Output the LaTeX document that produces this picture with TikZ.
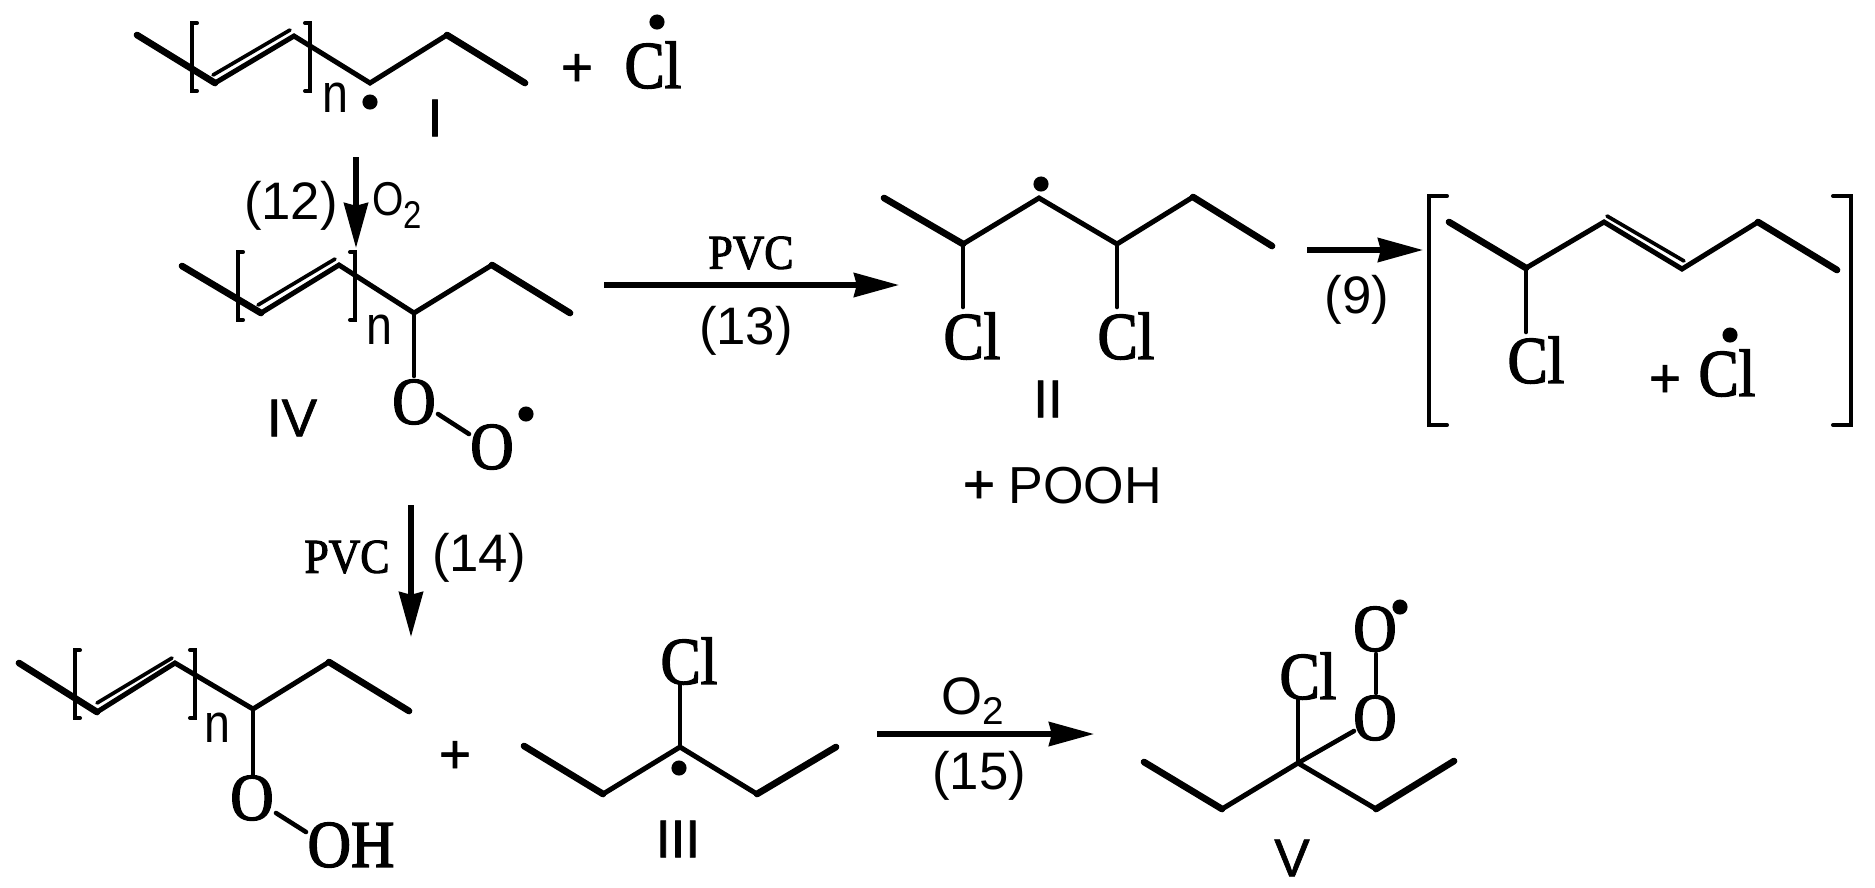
\documentclass[tikz,border=0pt]{standalone}
\usepackage{fontspec}
\usepackage{graphicx}
\setmainfont{Liberation Serif}
\newfontfamily\chemf[FakeStretch=0.9,FakeBold=2.2]{Liberation Serif}
\newfontfamily\sansf{Liberation Sans}
\newfontfamily\labf[FakeBold=1.2]{Liberation Sans}
\newfontfamily\idxf[FakeStretch=0.85]{Liberation Sans}
\newfontfamily\oxf[FakeStretch=0.85]{Liberation Sans}
\usetikzlibrary{arrows.meta}
\tikzset{
  x=0.01cm,y=-0.01cm,
  txt/.style={inner sep=0pt,outer sep=0pt},
  atom/.style={txt,font=\chemf\fontsize{19pt}{22pt}\selectfont},
  pvc/.style={txt,font=\chemf\fontsize{13.8pt}{16pt}\selectfont},
  rxn/.style={txt,font=\sansf\fontsize{15pt}{17pt}\selectfont},
  lab/.style={txt,font=\labf\fontsize{15.1pt}{17pt}\selectfont},
  idx/.style={txt,font=\idxf\fontsize{15.6pt}{17pt}\selectfont},
  plus/.style={txt,font=\labf\fontsize{15.6pt}{17pt}\selectfont},
  pooh/.style={txt,font=\sansf\fontsize{14.8pt}{17pt}\selectfont},
  oxy/.style={txt,anchor=base west},
  bond/.style={line width=1.42pt,line cap=round,line join=miter},
  endbond/.style={line width=1.9pt,line cap=round},
  thinbond/.style={line width=1.3pt,line cap=round},
  inner/.style={line width=1.05pt,line cap=round},
  brk/.style={line width=1.15pt,line cap=round,line join=miter},
  rad/.style={circle,fill=black,inner sep=0pt,minimum size=4.3pt},
  rarrow/.style={line width=1.5pt,-{Stealth[length=12.8pt,width=6.8pt,inset=0.8pt]}},
}
\begin{document}
\begin{tikzpicture}
\useasboundingbox (0,0) rectangle (1875,887);
% ---- molecule I
\coordinate (a1) at (137,35); \coordinate (a2) at (215,83); \coordinate (a3) at (294,36);
\coordinate (a4) at (370,83); \coordinate (a5) at (447,35); \coordinate (a6) at (525,83);
\coordinate (a2i) at (213,75); \coordinate (a3i) at (290,30);
\draw[bond] (a1)--(a2)--(a3)--(a4)--(a5)--(a6);
\draw[endbond] (a1)--(a2) (a5)--(a6);
\draw[inner] (a2i)--(a3i);
\draw[brk] (197,23)--(192,23)--(192,91)--(197,91);
\draw[brk] (305,23)--(310,23)--(310,91)--(305,91);
\node[idx] (n1) at (335,98) {n};
\node[rad] (d1) at (370,102) {};
\node[lab] (l1) at (435,118) {I};
\node[plus] (p1) at (577,70) {+};
\node[atom] (cl1) at (653,65) {Cl};
\node[rad] (d2) at (657,22) {};
% ---- arrow 12
\coordinate (s12) at (356,157); \coordinate (e12) at (356,248);
\draw[rarrow] (s12)--(e12);
\node[rxn] (t12) at (291,206) {(12)};
\node[oxy] (o12) at (372,215) {\oxf\fontsize{13.5pt}{15pt}\selectfont O\raisebox{-3.7pt}{\fontsize{11pt}{13pt}\selectfont 2}};
% ---- molecule IV
\coordinate (b1) at (182,266); \coordinate (b2) at (261,313); \coordinate (b3) at (339,265);
\coordinate (b4) at (414,313); \coordinate (b5) at (492,265); \coordinate (b6) at (570,313);
\coordinate (b2i) at (258,305); \coordinate (b3i) at (335,259);
\coordinate (b7) at (414,376); \coordinate (b8) at (438,414); \coordinate (b9) at (469,434);
\draw[bond] (b1)--(b2)--(b3)--(b4)--(b5)--(b6);
\draw[endbond] (b1)--(b2) (b5)--(b6);
\draw[inner] (b2i)--(b3i);
\draw[thinbond] (b4)--(b7);
\draw[thinbond] (b8)--(b9);
\draw[brk] (243,252)--(238,252)--(238,320)--(243,320);
\draw[brk] (350,252)--(355,252)--(355,320)--(350,320);
\node[idx] (n2) at (379,330) {n};
\node[atom] (o1) at (414,402) {O};
\node[atom] (o2) at (492,447) {O};
\node[rad] (d3) at (526,414) {};
\node[lab] (l4) at (292,418) {IV};
% ---- arrow 13
\coordinate (s13) at (604,285); \coordinate (e13) at (899,285);
\draw[rarrow] (s13)--(e13);
\node[pvc] (pvc1) at (751,253) {PVC};
\node[rxn] (t13) at (746,331) {(13)};
% ---- molecule II
\coordinate (c1) at (884,198); \coordinate (c2) at (963,244); \coordinate (c3) at (1039,198);
\coordinate (c4) at (1117,244); \coordinate (c5) at (1193,197); \coordinate (c6) at (1272,246);
\coordinate (c7) at (963,307); \coordinate (c8) at (1117,307);
\draw[bond] (c1)--(c2)--(c3)--(c4)--(c5)--(c6);
\draw[endbond] (c1)--(c2) (c5)--(c6);
\draw[thinbond] (c2)--(c7);
\draw[thinbond] (c4)--(c8);
\node[rad] (d4) at (1041,184) {};
\node[atom] (cl2) at (972,336) {Cl};
\node[atom] (cl3) at (1126,336) {Cl};
\node[lab] (l2) at (1048,399) {II};
\node[plus] (p2) at (979,487) {+};
\node[pooh] (pooh) at (1085,486) {POOH};
% ---- arrow 9
\coordinate (s9) at (1307,250); \coordinate (e9) at (1423,250);
\draw[rarrow] (s9)--(e9);
\node[rxn] (t9) at (1357,300) {(9)};
% ---- big bracket
\draw[brk] (1447,196)--(1429,196)--(1429,425)--(1447,425);
\draw[brk] (1833,196)--(1851,196)--(1851,425)--(1833,425);
\coordinate (f1) at (1449,222); \coordinate (f2) at (1526,268); \coordinate (f3) at (1604,222);
\coordinate (f4) at (1682,269); \coordinate (f5) at (1758,222); \coordinate (f6) at (1837,270);
\coordinate (f3i) at (1607,216); \coordinate (f4i) at (1684,261); \coordinate (f7) at (1526,332);
\draw[bond] (f1)--(f2)--(f3)--(f4)--(f5)--(f6);
\draw[endbond] (f1)--(f2) (f5)--(f6);
\draw[inner] (f3i)--(f4i);
\draw[thinbond] (f2)--(f7);
\node[atom] (cl4) at (1536,360) {Cl};
\node[plus] (p3) at (1665,381) {+};
\node[atom] (cl5) at (1727,373) {Cl};
\node[rad] (d5) at (1730,335) {};
% ---- arrow 14
\coordinate (s14) at (411,505); \coordinate (e14) at (411,637);
\draw[rarrow] (s14)--(e14);
\node[pvc] (pvc2) at (347,557) {PVC};
\node[rxn] (t14) at (479,558) {(14)};
% ---- hydroperoxide
\coordinate (g1) at (19,663); \coordinate (g2) at (97,712); \coordinate (g3) at (175,663);
\coordinate (g4) at (253,709); \coordinate (g5) at (329,662); \coordinate (g6) at (409,711);
\coordinate (g2i) at (97,703); \coordinate (g3i) at (172,658);
\coordinate (g7) at (253,774); \coordinate (g8) at (276,813); \coordinate (g9) at (306,832);
\draw[bond] (g1)--(g2)--(g3)--(g4)--(g5)--(g6);
\draw[endbond] (g1)--(g2) (g5)--(g6);
\draw[inner] (g2i)--(g3i);
\draw[thinbond] (g4)--(g7);
\draw[thinbond] (g8)--(g9);
\draw[brk] (80,650)--(75,650)--(75,718)--(80,718);
\draw[brk] (190,650)--(195,650)--(195,718)--(190,718);
\node[idx] (n3) at (217,728) {n};
\node[atom] (o3) at (252,798) {O};
\node[atom] (oh) at (351,845) {OH};
\node[plus] (p4) at (455,757) {+};
% ---- molecule III
\coordinate (h1) at (524,746); \coordinate (h2) at (603,794); \coordinate (h3) at (680,747);
\coordinate (h4) at (757,794); \coordinate (h5) at (836,747); \coordinate (h6) at (680,684);
\draw[bond] (h1)--(h2)--(h3)--(h4)--(h5);
\draw[endbond] (h1)--(h2) (h4)--(h5);
\draw[thinbond] (h3)--(h6);
\node[atom] (cl6) at (689,661) {Cl};
\node[rad] (d6) at (679,768) {};
\node[lab] (l3) at (678,839) {III};
% ---- arrow 15
\coordinate (s15) at (877,734); \coordinate (e15) at (1094,734);
\draw[rarrow] (s15)--(e15);
\node[oxy] (o15) at (941,714) {\sansf\fontsize{15pt}{17pt}\selectfont O\raisebox{-3.1pt}{\fontsize{11pt}{13pt}\selectfont 2}};
\node[rxn] (t15) at (979,776) {(15)};
% ---- molecule V
\coordinate (k1) at (1144,762); \coordinate (k2) at (1222,809); \coordinate (k3) at (1298,763);
\coordinate (k4) at (1376,809); \coordinate (k5) at (1454,761);
\coordinate (k6) at (1298,699); \coordinate (k7) at (1354,731); \coordinate (k8) at (1376,654); \coordinate (k9) at (1376,693);
\draw[bond] (k1)--(k2)--(k3)--(k4)--(k5);
\draw[endbond] (k1)--(k2) (k4)--(k5);
\draw[thinbond] (k3)--(k6);
\draw[thinbond] (k3)--(k7);
\draw[thinbond] (k8)--(k9);
\node[atom] (cl7) at (1308,676) {Cl};
\node[atom] (o4) at (1375,718) {O};
\node[atom] (o5) at (1375,629) {O};
\node[rad] (d7) at (1400,607) {};
\node[lab] (l5) at (1292,858) {V};
\end{tikzpicture}
\end{document}
